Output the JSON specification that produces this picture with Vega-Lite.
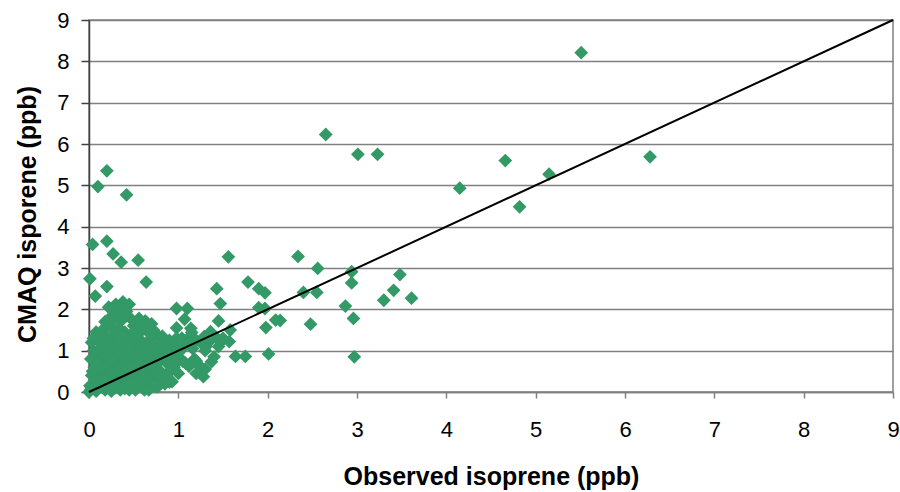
{
  "$schema": "https://vega.github.io/schema/vega-lite/v6.json",
  "width": 804,
  "height": 372,
  "autosize": "none",
  "padding": {"left": 89, "top": 20, "right": 7, "bottom": 100},
  "background": "white",
  "config": {
    "view": {"stroke": "#808080", "strokeWidth": 1.5},
    "font": "Liberation Sans"
  },
  "datasets": {
    "pts": [
      {"x":5.51,"y":8.21},{"x":2.65,"y":6.23},{"x":3.01,"y":5.75},{"x":3.23,"y":5.75},{"x":4.15,"y":4.93},
      {"x":4.66,"y":5.6},{"x":5.15,"y":5.27},{"x":4.82,"y":4.48},{"x":6.28,"y":5.69},{"x":2.34,"y":3.28},
      {"x":2.56,"y":2.99},{"x":2.94,"y":2.91},{"x":2.94,"y":2.64},{"x":2.4,"y":2.41},{"x":2.55,"y":2.41},
      {"x":3.48,"y":2.84},{"x":3.41,"y":2.46},{"x":3.3,"y":2.22},{"x":3.61,"y":2.27},{"x":2.87,"y":2.08},
      {"x":2.96,"y":1.78},{"x":2.48,"y":1.64},{"x":2.97,"y":0.85},{"x":2.14,"y":1.73},{"x":0.2,"y":5.35},
      {"x":0.1,"y":4.97},{"x":0.42,"y":4.77},{"x":0.04,"y":3.57},{"x":0.2,"y":3.65},{"x":0.27,"y":3.34},
      {"x":0.36,"y":3.14},{"x":0.55,"y":3.19},{"x":0.01,"y":2.74},{"x":0.2,"y":2.55},{"x":0.07,"y":2.32},
      {"x":0.64,"y":2.66},{"x":1.56,"y":3.27},{"x":1.78,"y":2.66},{"x":1.43,"y":2.5},{"x":1.9,"y":2.5},
      {"x":1.97,"y":2.4},{"x":1.47,"y":2.14},{"x":1.9,"y":2.04},{"x":1.97,"y":2.02},{"x":2.09,"y":1.74},
      {"x":1.98,"y":1.56},{"x":0.98,"y":2.02},{"x":1.1,"y":2.02},{"x":0.98,"y":1.55},{"x":1.07,"y":1.76},
      {"x":1.14,"y":1.54},{"x":1.45,"y":1.72},{"x":1.58,"y":1.5},{"x":1.64,"y":0.86},{"x":1.75,"y":0.86},
      {"x":2.01,"y":0.92},{"x":0.9,"y":0.24},{"x":0.77,"y":0.13},{"x":1.28,"y":0.37},{"x":1.37,"y":0.73},
      {"x":1.3,"y":0.55},
      {"x":1.15,"y":1.44},{"x":1.36,"y":1.46},{"x":1.57,"y":1.22},{"x":1.42,"y":1.33},{"x":1.29,"y":1.34},
      {"x":1.2,"y":1.25},{"x":1.31,"y":1.1},{"x":1.48,"y":1.22},{"x":0.98,"y":1.3},{"x":1.04,"y":1.3},
      {"x":1.1,"y":1.28},{"x":0.97,"y":1.05},{"x":1.06,"y":1.08},{"x":1.16,"y":1.05},{"x":0.95,"y":0.6},
      {"x":1.0,"y":0.45},{"x":1.05,"y":0.75},{"x":1.12,"y":0.62},{"x":1.18,"y":0.8},{"x":1.23,"y":0.65},
      {"x":1.26,"y":0.58},{"x":0.93,"y":0.25},{"x":1.2,"y":0.45},{"x":0.85,"y":0.2},
      {"x":0.02,"y":0.05},{"x":0.05,"y":0.2},{"x":0.03,"y":0.4},{"x":0.06,"y":0.6},{"x":0.02,"y":0.8},
      {"x":0.05,"y":1.0},{"x":0.03,"y":1.2},{"x":0.08,"y":0.9},{"x":0.1,"y":0.1},{"x":0.12,"y":0.35},
      {"x":0.1,"y":0.55},{"x":0.13,"y":0.75},{"x":0.11,"y":0.95},{"x":0.15,"y":1.15},{"x":0.18,"y":0.05},
      {"x":0.2,"y":0.25},{"x":0.18,"y":0.45},{"x":0.21,"y":0.65},{"x":0.19,"y":0.85},{"x":0.22,"y":1.05},
      {"x":0.25,"y":1.25},{"x":0.27,"y":0.15},{"x":0.29,"y":0.35},{"x":0.26,"y":0.55},{"x":0.3,"y":0.75},
      {"x":0.28,"y":0.95},{"x":0.31,"y":1.15},{"x":0.35,"y":0.05},{"x":0.37,"y":0.25},{"x":0.34,"y":0.45},
      {"x":0.38,"y":0.65},{"x":0.36,"y":0.85},{"x":0.39,"y":1.05},{"x":0.42,"y":1.3},{"x":0.44,"y":0.15},
      {"x":0.46,"y":0.35},{"x":0.43,"y":0.55},{"x":0.47,"y":0.75},{"x":0.45,"y":0.95},{"x":0.48,"y":1.15},
      {"x":0.52,"y":0.05},{"x":0.53,"y":0.25},{"x":0.51,"y":0.45},{"x":0.55,"y":0.65},{"x":0.54,"y":0.85},
      {"x":0.56,"y":1.05},{"x":0.58,"y":1.25},{"x":0.6,"y":0.2},{"x":0.62,"y":0.4},{"x":0.6,"y":0.6},
      {"x":0.63,"y":0.8},{"x":0.61,"y":1.0},{"x":0.65,"y":1.2},{"x":0.68,"y":0.15},{"x":0.7,"y":0.35},
      {"x":0.69,"y":0.55},{"x":0.72,"y":0.75},{"x":0.7,"y":0.95},{"x":0.74,"y":1.1},{"x":0.78,"y":0.3},
      {"x":0.8,"y":0.5},{"x":0.77,"y":0.7},{"x":0.82,"y":0.9},{"x":0.85,"y":1.1},{"x":0.88,"y":0.45},
      {"x":0.9,"y":0.65},{"x":0.92,"y":0.85},{"x":0.95,"y":1.15},{"x":0.98,"y":0.7},{"x":1.0,"y":0.95},
      {"x":1.05,"y":1.15},{"x":1.08,"y":0.7},{"x":1.12,"y":1.2},{"x":1.2,"y":0.75},{"x":1.25,"y":1.2},
      {"x":1.3,"y":1.0},{"x":1.36,"y":1.25},{"x":1.4,"y":0.85},{"x":1.5,"y":1.3},{"x":1.45,"y":1.1},
      {"x":0.9,"y":1.25},{"x":0.78,"y":1.35},{"x":0.67,"y":1.45},{"x":0.72,"y":1.5},
      {"x":0.08,"y":1.45},{"x":0.15,"y":1.5},{"x":0.2,"y":1.35},{"x":0.24,"y":1.6},{"x":0.28,"y":1.8},
      {"x":0.33,"y":1.55},{"x":0.35,"y":1.7},{"x":0.4,"y":1.45},{"x":0.42,"y":1.85},{"x":0.5,"y":1.6},
      {"x":0.55,"y":1.4},{"x":0.45,"y":1.35},{"x":0.05,"y":1.3},{"x":0.12,"y":1.25},
      {"x":0.0,"y":0.0},{"x":0.01,"y":0.15},{"x":0.08,"y":0.02},{"x":0.15,"y":0.12},{"x":0.25,"y":0.02},
      {"x":0.4,"y":0.08},{"x":0.45,"y":0.05},{"x":0.62,"y":0.05},{"x":0.75,"y":0.13},{"x":0.55,"y":0.12},
      {"x":0.3,"y":0.1},
      {"x":0.22,"y":2.05},{"x":0.3,"y":2.12},{"x":0.38,"y":2.18},{"x":0.45,"y":2.12},{"x":0.34,"y":1.98},
      {"x":0.42,"y":1.95},{"x":0.26,"y":1.85},{"x":0.48,"y":1.75},{"x":0.56,"y":1.78},{"x":0.63,"y":1.72},
      {"x":0.7,"y":1.65},{"x":0.6,"y":1.55},{"x":0.66,"y":1.45},{"x":0.74,"y":1.4},{"x":0.82,"y":1.35},
      {"x":0.88,"y":1.2},{"x":0.92,"y":1.0},{"x":0.8,"y":0.95},{"x":0.85,"y":0.75},{"x":0.73,"y":0.5},
      {"x":0.07,"y":0.3},{"x":0.15,"y":0.25},{"x":0.23,"y":0.4},{"x":0.32,"y":0.55},{"x":0.4,"y":0.35},
      {"x":0.49,"y":0.6},{"x":0.57,"y":0.45},{"x":0.65,"y":0.3},{"x":0.14,"y":0.6},{"x":0.24,"y":0.8},
      {"x":0.33,"y":1.0},{"x":0.41,"y":0.75},{"x":0.5,"y":0.95},{"x":0.58,"y":0.8},{"x":0.66,"y":0.65},
      {"x":0.74,"y":0.9},{"x":0.07,"y":0.75},{"x":0.16,"y":0.95},{"x":0.26,"y":1.1},{"x":0.35,"y":1.25},
      {"x":0.44,"y":1.05},{"x":0.52,"y":1.3},{"x":0.62,"y":1.1},{"x":0.7,"y":1.25},{"x":0.79,"y":1.1},
      {"x":0.87,"y":1.0},{"x":0.9,"y":0.5},{"x":0.83,"y":0.35},{"x":0.75,"y":0.6},{"x":0.68,"y":0.8},
      {"x":0.04,"y":0.5},{"x":0.09,"y":0.7},{"x":0.17,"y":0.3},{"x":0.27,"y":0.45},{"x":0.37,"y":0.4},
      {"x":0.47,"y":0.2},{"x":0.57,"y":0.3},{"x":0.67,"y":0.05},{"x":0.12,"y":1.05},{"x":0.2,"y":1.2},
      {"x":0.37,"y":1.35},{"x":0.5,"y":1.45},{"x":0.58,"y":1.6},{"x":0.3,"y":1.45},{"x":0.18,"y":1.7}
    ],
    "diag": [{"x":0,"y":0},{"x":9,"y":9}]
  },
  "layer": [
    {
      "data": {"name": "pts"},
      "mark": {"type": "point", "shape": "diamond", "filled": true, "size": 190, "color": "#339966", "opacity": 1},
      "encoding": {
        "x": {
          "field": "x", "type": "quantitative",
          "scale": {"domain": [0, 9], "nice": false, "zero": true},
          "axis": {
            "values": [0,1,2,3,4,5,6,7,8,9],
            "format": "d",
            "title": "Observed isoprene (ppb)",
            "grid": false,
            "domainColor": "#808080", "domainWidth": 1.5,
            "tickColor": "#808080", "tickSize": 6, "tickWidth": 1.5,
            "labelFont": "Liberation Sans", "labelFontSize": 22, "labelColor": "#000000",
            "labelPadding": 21, "labelFlush": false,
            "titleFont": "Liberation Sans", "titleFontSize": 25, "titleFontWeight": "bold",
            "titleColor": "#000000", "titlePadding": 24
          }
        },
        "y": {
          "field": "y", "type": "quantitative",
          "scale": {"domain": [0, 9], "nice": false, "zero": true},
          "axis": {
            "values": [0,1,2,3,4,5,6,7,8,9],
            "format": "d",
            "title": "CMAQ isporene (ppb)",
            "grid": true, "gridColor": "#808080", "gridWidth": 1.5,
            "domainColor": "#404040", "domainWidth": 1.5,
            "tickColor": "#404040", "tickSize": 8, "tickWidth": 1.5,
            "labelFont": "Liberation Sans", "labelFontSize": 22, "labelColor": "#000000",
            "labelPadding": 12,
            "titleFont": "Liberation Sans", "titleFontSize": 25, "titleFontWeight": "bold",
            "titleColor": "#000000", "titleX": -49, "titleY": 194, "titleAngle": 270,
            "titleAlign": "center", "titleBaseline": "bottom"
          }
        }
      }
    },
    {
      "data": {"name": "diag"},
      "mark": {"type": "line", "color": "#000000", "strokeWidth": 2},
      "encoding": {
        "x": {"field": "x", "type": "quantitative"},
        "y": {"field": "y", "type": "quantitative"}
      }
    }
  ]
}
